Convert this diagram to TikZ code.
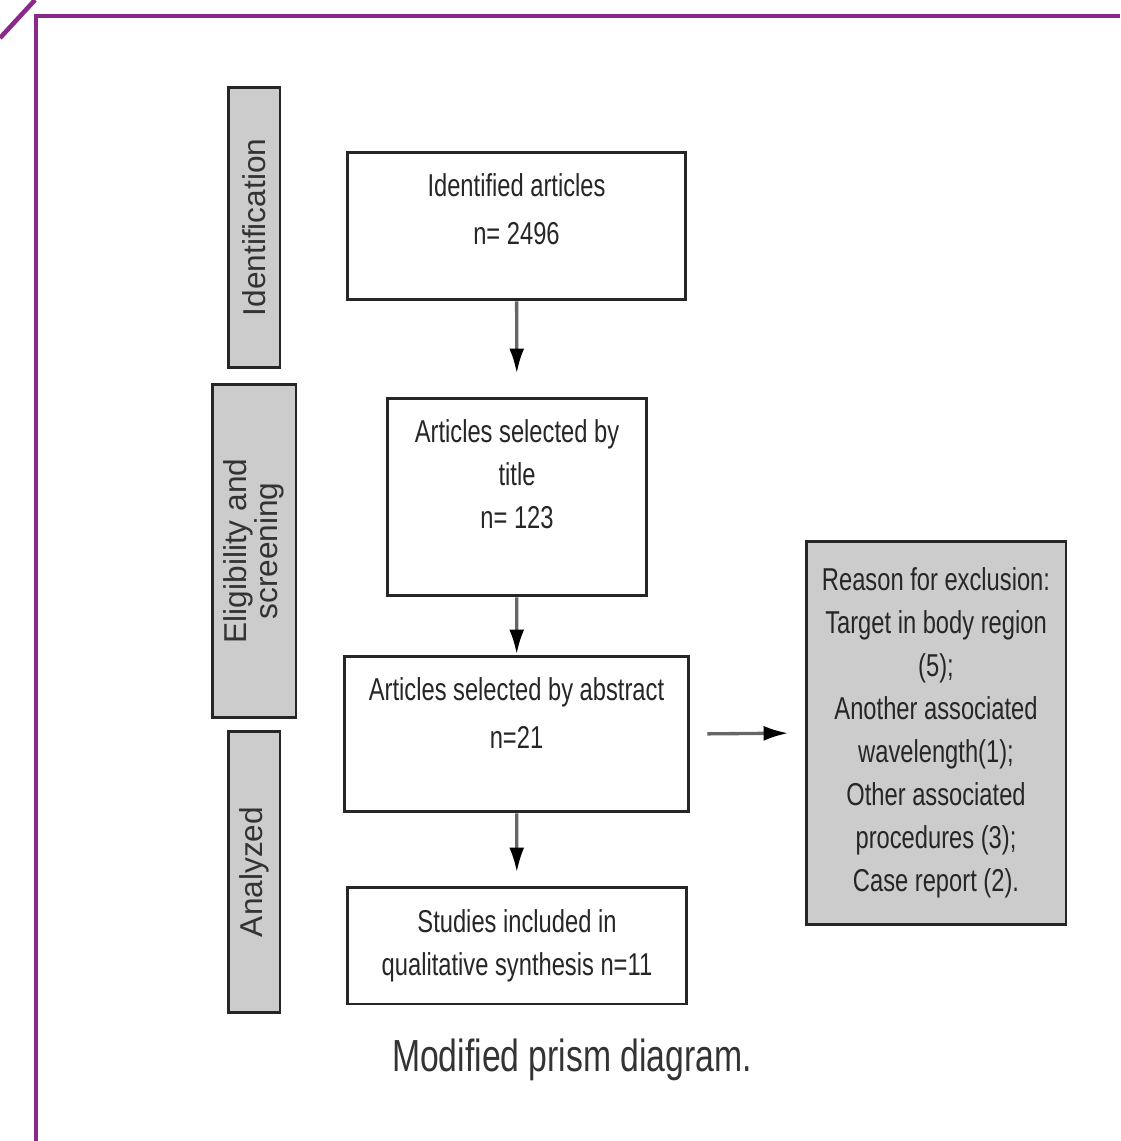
\documentclass[tikz,border=0pt]{standalone}
\usepackage{fontspec}
\setmainfont{Liberation Sans}
\newfontfamily\narrowfont[FakeStretch=0.75]{Liberation Sans}
\usepackage{tikz}
\usetikzlibrary{calc,arrows.meta}
\definecolor{framepurple}{RGB}{139,41,139}
\definecolor{boxgray}{RGB}{204,204,204}

\begin{document}
\begin{tikzpicture}[x=0.02cm,y=-0.02cm,
	flowbox/.style={draw=black!85,line width=1.7pt,fill=white,align=center,inner sep=0pt,
		font=\narrowfont\fontsize{18}{24.5}\selectfont,text=black!85},
	sidebox/.style={draw=black!85,line width=1.7pt,fill=boxgray,align=center,inner sep=0pt,
		rotate=90,font=\fontsize{18}{17.6}\selectfont,text=black!80},
	flowarrow/.style={line width=1.9pt,draw=black!60,-{Latex[color=black,length=0.5cm,width=0.3cm]}}]
	\useasboundingbox (0,0) rectangle (1120,1141);
		% frame
		\draw[framepurple,line width=2.6pt] (36,1141) -- (36,16) -- (1120,16);
		\draw[framepurple,line width=2.6pt] (0,38) -- (35,0);
		% positions
		\coordinate (S) at (254,227.5);
		\coordinate (T) at (254,551);
		\coordinate (U) at (254,872);
		\coordinate (A) at (516.5,226);
		\coordinate (B) at (517,497);
		\coordinate (C) at (516.5,734);
		\coordinate (D) at (517,945.5);
		\coordinate (E) at (936,733);
		% side labels
		\node[sidebox,minimum width=5.62cm,minimum height=1.04cm] (identside) at (S) {Identification};
		\node[sidebox,minimum width=6.68cm,minimum height=1.68cm] (eligside) at (T) {Eligibility and\\screening};
		\node[sidebox,minimum width=5.64cm,minimum height=1.04cm] (analside) at (U) {Analyzed};
		% flow
		\node[flowbox,minimum width=6.78cm,minimum height=2.96cm,text depth=0.69cm] (identified) at (A) {Identified articles\\[2.8pt]n= 2496};
		\node[flowbox,minimum width=5.2cm,minimum height=3.96cm,text depth=0.93cm] (bytitle) at (B) {Articles selected by\\title\\n= 123};
		\node[flowbox,minimum width=6.9cm,minimum height=3.12cm,text depth=0.85cm] (byabstract) at (C) {Articles selected by abstract\\[2.8pt]n=21};
		\node[flowbox,minimum width=6.8cm,minimum height=2.34cm] (included) at (D) {Studies included in\\qualitative synthesis n=11};
		\node[flowbox,fill=boxgray,minimum width=5.2cm,minimum height=7.68cm] (exclusion) at (E) {Reason for exclusion:\\Target in body region\\(5);\\Another associated\\wavelength(1);\\Other associated\\procedures (3);\\Case report (2).};
		\draw[flowarrow,shorten >=0.46cm] (identified) -- (bytitle);
		\draw[flowarrow] (bytitle) -- (byabstract);
		\draw[flowarrow,shorten >=0.26cm] (byabstract) -- (included);
		\draw[flowarrow,shorten <=0.34cm,shorten >=0.32cm] (byabstract.east) -- (exclusion.west);
		\node[font=\narrowfont\fontsize{25.6}{30}\selectfont,text=black!80] (caption) at (572,1060) {Modified prism diagram.};
\end{tikzpicture}
\end{document}
